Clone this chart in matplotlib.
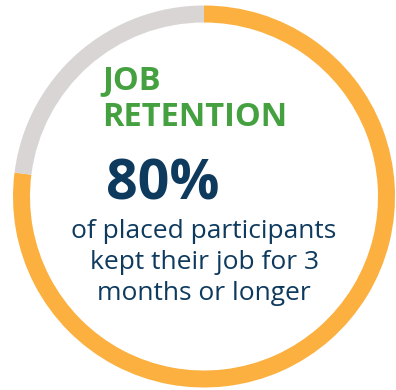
import matplotlib
matplotlib.use("Agg")
import matplotlib.pyplot as plt

# Data
segments = ["Kept job", "Other"]
shares = [77, 23]
seg_colors = ["#FBB040", "#D9D5D4"]
title_lines = ["JOB", "RETENTION"]
headline = "80%"
body_lines = ["of placed participants", "kept their job for 3", "months or longer"]

W, H = 396, 390
fig = plt.figure(figsize=(W / 100, H / 100), dpi=100)
ax = fig.add_axes([0, 0, 1, 1])
ax.set_xlim(0, W)
ax.set_ylim(0, H)
ax.set_aspect("equal")
ax.axis("off")

cx, cy, R = 204, H - 196.5, 191
ax.pie(shares, colors=seg_colors, startangle=90, counterclock=False,
       center=(cx, cy), radius=R, wedgeprops=dict(width=17, linewidth=0))
ax.set_xlim(0, W)
ax.set_ylim(0, H)

font = "Open Sans"
green = "#45A040"
navy = "#0E3A5E"

ax.text(102, H - 89, title_lines[0], family=font, fontsize=23.5, fontweight="bold",
        color=green, ha="left", va="baseline")
ax.text(102, H - 126.5, title_lines[1], family=font, fontsize=23.5, fontweight="bold",
        color=green, ha="left", va="baseline")
ax.text(106, H - 199, headline, family=font, fontsize=40, fontweight="bold",
        color=navy, ha="left", va="baseline")
for i, line in enumerate(body_lines):
    ax.text(204, H - (238 + 31 * i), line, family=font, fontsize=19,
            color=navy, ha="center", va="baseline")

fig.savefig("out.png", dpi=100)
